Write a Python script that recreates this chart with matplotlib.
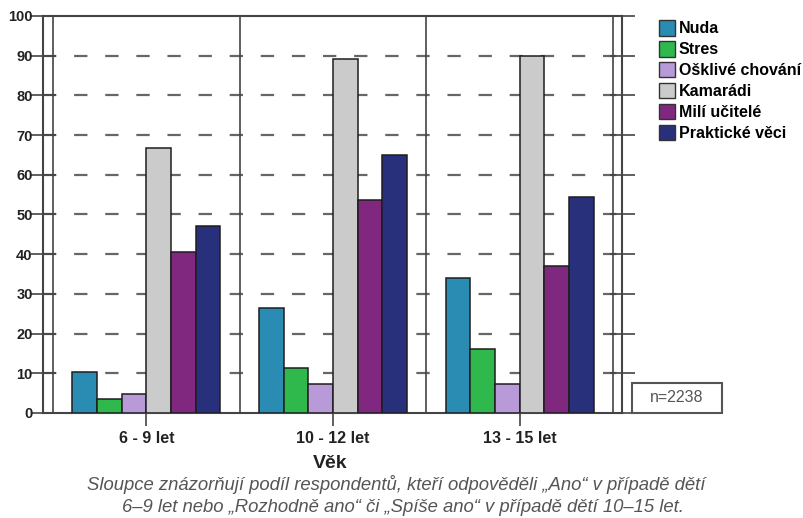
import matplotlib.pyplot as plt
import numpy as np
from matplotlib.patches import Patch, Rectangle

plt.rcParams['font.family'] = ['Liberation Sans', 'DejaVu Sans']

groups = ['6 - 9 let', '10 - 12 let', '13 - 15 let']
series = ['Nuda', 'Stres', 'Ošklivé chování', 'Kamarádi', 'Milí učitelé', 'Praktické věci']
colors = ['#2a8bb3', '#2fb84c', '#b99ad8', '#cbcbcb', '#80287f', '#29307b']
nuda = [10.4, 26.5, 33.9]
stres = [3.5, 11.4, 16.1]
osklive = [4.7, 7.2, 7.2]
kamaradi = [66.8, 89.2, 89.8]
mili = [40.5, 53.6, 37.1]
prakticke = [47.2, 64.9, 54.4]
values = [nuda, stres, osklive, kamaradi, mili, prakticke]

W, H = 804, 518
fig = plt.figure(figsize=(W / 100, H / 100), dpi=100)
# axes from x=43 to 622, y=16 to 413 (pixels)
ax = fig.add_axes([43 / W, 1 - 413 / H, (622 - 43) / W, (413 - 16) / H])

unit = 187.0
ax.set_xlim(-0.5 - 10 / unit, 2.5 + 9 / unit)
ax.set_ylim(0, 100)

x = np.arange(len(groups))
bw = 24.7 / unit
for i, (vals, c) in enumerate(zip(values, colors)):
    ax.bar(x + (i - 2.5) * bw, vals, bw, color=c, edgecolor='#1e1e1e',
           linewidth=1.1, zorder=3)

for b in [-0.5, 0.5, 1.5, 2.5]:
    ax.axvline(b, color='#444444', lw=1.2, zorder=4)

for yv in range(10, 100, 10):
    ax.axhline(yv, color='#666666', lw=1.6, ls=(0, (6, 8)), zorder=1)

for s in ax.spines.values():
    s.set_color('#444444')
    s.set_linewidth(1.5)

ax.set_yticks(range(0, 101, 10))
ax.tick_params(axis='y', which='both', direction='inout', length=18, width=1.2,
               color='#444444', left=True, right=True, labelsize=10.5, pad=-1.5)
for lbl in ax.get_yticklabels():
    lbl.set_fontweight('bold')
    lbl.set_color('#222222')

ax.set_xticks(x)
ax.set_xticklabels(groups, fontweight='bold', fontsize=11.5, color='#222222')
ax.tick_params(axis='x', direction='out', length=9, width=1.2, color='#444444', pad=4)

fig.text(330 / W, 1 - 464 / H, 'Věk', ha='center', va='center',
         fontsize=14, fontweight='bold', color='#222222')
fig.text(396 / W, 1 - 484 / H,
         'Sloupce znázorňují podíl respondentů, kteří odpověděli „Ano“ v případě dětí',
         ha='center', va='center', fontsize=13.3, style='italic', color='#555555')
fig.text(403 / W, 1 - 507 / H,
         '6–9 let nebo „Rozhodně ano“ či „Spíše ano“ v případě dětí 10–15 let.',
         ha='center', va='center', fontsize=13.3, style='italic', color='#555555')

handles = [Patch(facecolor=c, edgecolor='#333333', label=s) for s, c in zip(series, colors)]
fig.legend(handles=handles, loc='upper left', bbox_to_anchor=(645 / W, 1 - 6 / H),
           frameon=False, handlelength=1.0, handleheight=1.1, handletextpad=0.2,
           labelspacing=0.3, prop={'weight': 'bold', 'size': 11.5})

fig.patches.append(Rectangle((632 / W, 1 - 413 / H), 90 / W, 30 / H,
                             transform=fig.transFigure, facecolor='white',
                             edgecolor='#555555', linewidth=1.5))
fig.text(677 / W, 1 - 398 / H, 'n=2238', ha='center', va='center', fontsize=11.5,
         color='#555555')

fig.savefig('out.png', dpi=100)
